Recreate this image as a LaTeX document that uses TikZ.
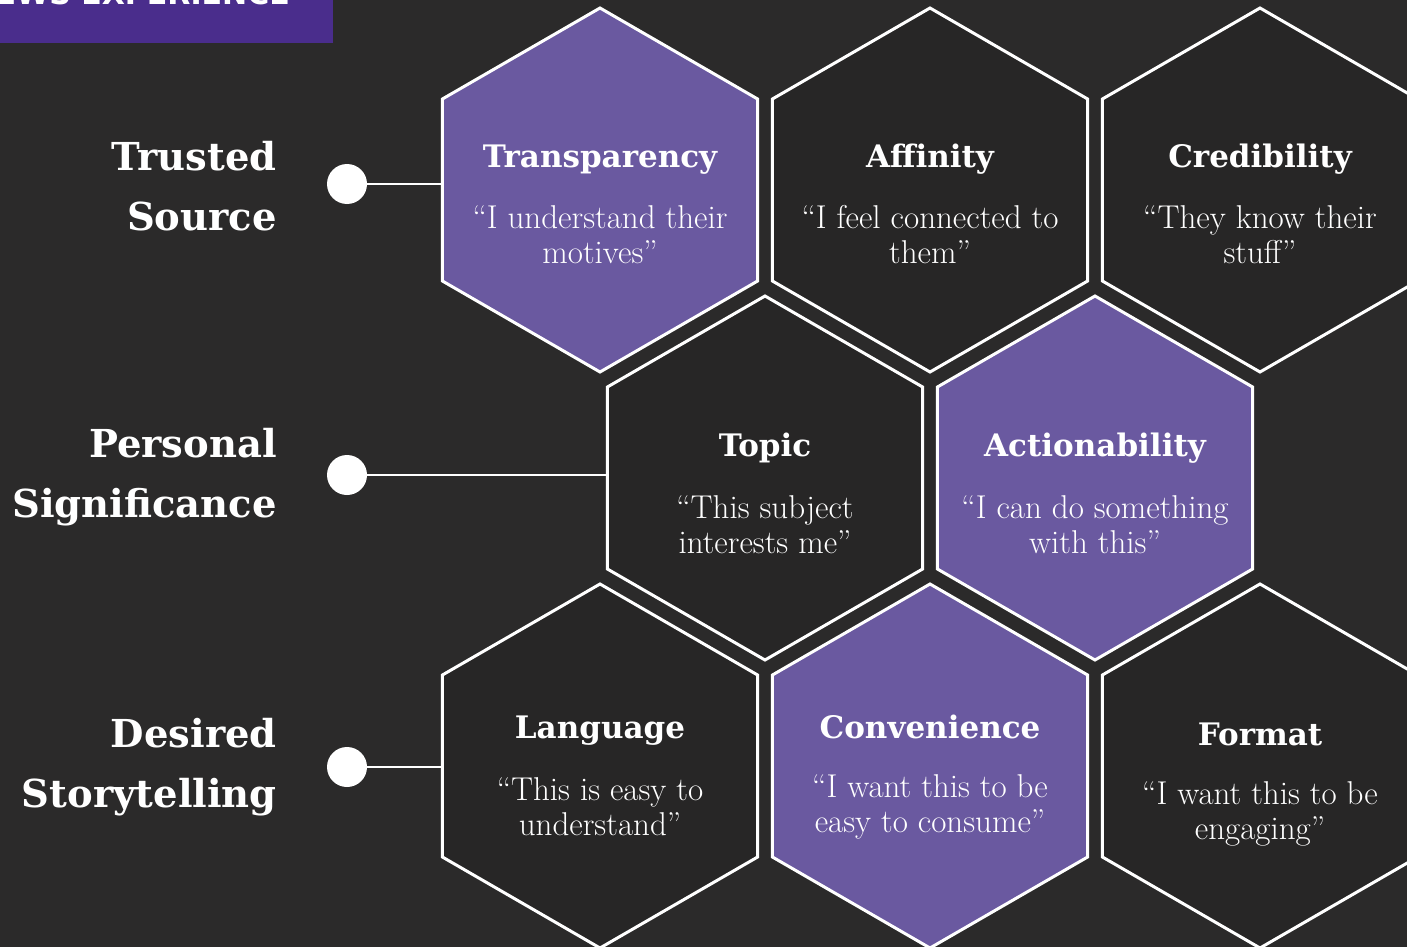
\documentclass[tikz,border=0pt]{standalone}
\usepackage{fontspec}
\newfontfamily\slab{DejaVu Serif}
\newfontfamily\bannerfont{DejaVu Sans}
\definecolor{bg}{RGB}{43,42,42}
\definecolor{hexpurple}{RGB}{106,89,160}
\definecolor{hexdark}{RGB}{39,38,38}
\definecolor{bannerpurple}{RGB}{74,45,140}
\newcommand\hexcell[4]{% name, x, y, fill
  \draw[hexline,fill=#4] (#2,#3) +(0,-182) -- +(157.6,-91) -- +(157.6,91) -- +(0,182) -- +(-157.6,91) -- +(-157.6,-91) -- cycle;
  \coordinate (#1) at (#2,#3);
  \path (#2,#3) ++(-157.6,0) coordinate (#1-w);
}
\begin{document}
\begin{tikzpicture}[x=1pt,y=-1pt,
  hexline/.style={draw=white,line width=3pt,line join=miter},
  hextitle/.style={text=white,font=\slab\bfseries\fontsize{31}{33}\selectfont,anchor=base,inner sep=0},
  hexquote/.style={text=white,font=\fontsize{33}{35}\selectfont,align=center,inner sep=0},
  rowlabel/.style={text=white,font=\slab\bfseries\fontsize{38.5}{60}\selectfont,align=right,anchor=east,inner sep=0},
  dot/.style={circle,fill=white,minimum size=40pt,inner sep=0},
  link/.style={draw=white,line width=2pt}]
\useasboundingbox (0,0) rectangle (1407,947);
\clip (0,0) rectangle (1407,947);
\fill[bg] (0,0) rectangle (1407,947);

% banner
\fill[bannerpurple] (0,0) rectangle (333,43);
\node[text=white,font=\bannerfont\bfseries\fontsize{30}{30}\selectfont,anchor=base east,inner sep=0] (bannertext) at (290,5) {NEWS EXPERIENCE};

% hexagons
\hexcell{transp}{600}{190}{hexpurple}
\hexcell{affin}{930}{190}{hexdark}
\hexcell{cred}{1260}{190}{hexdark}
\hexcell{topic}{765}{478}{hexdark}
\hexcell{action}{1095}{478}{hexpurple}
\hexcell{lang}{600}{766}{hexdark}
\hexcell{conv}{930}{766}{hexpurple}
\hexcell{format}{1260}{766}{hexdark}

% hex texts
\node[hextitle] (transp-t) at (600,167) {Transparency};
\node[hexquote] (transp-q) at (600,235) {“I understand their\\motives”};
\node[hextitle] (affin-t) at (930,167) {Affinity};
\node[hexquote] (affin-q) at (930,235) {“I feel connected to\\them”};
\node[hextitle] (cred-t) at (1260,167) {Credibility};
\node[hexquote] (cred-q) at (1260,235) {“They know their\\stuff”};
\node[hextitle] (topic-t) at (765,456) {Topic};
\node[hexquote] (topic-q) at (765,525) {“This subject\\interests me”};
\node[hextitle] (action-t) at (1095,456) {Actionability};
\node[hexquote] (action-q) at (1095,525) {“I can do something\\with this”};
\node[hextitle] (lang-t) at (600,738) {Language};
\node[hexquote] (lang-q) at (600,807) {“This is easy to\\understand”};
\node[hextitle] (conv-t) at (930,738) {Convenience};
\node[hexquote] (conv-q) at (930,807) {“I want this to be\\easy to consume”};
\node[hextitle] (format-t) at (1260,745) {Format};
\node[hexquote] (format-q) at (1260,814) {“I want this to be\\engaging”};

% row labels, dots, links
\node[rowlabel] (l1) at (277,186) {Trusted\\Source};
\node[rowlabel] (l2) at (277,477) {Personal\\Significance};
\node[rowlabel] (l3) at (277,767) {Desired\\Storytelling};
\node[dot] (d1) at (347,184) {};
\node[dot] (d2) at (347,475) {};
\node[dot] (d3) at (347,767) {};
\draw[link] (d1) -- (d1 -| transp-w);
\draw[link] (d2) -- (d2 -| topic-w);
\draw[link] (d3) -- (d3 -| lang-w);
\end{tikzpicture}
\end{document}
